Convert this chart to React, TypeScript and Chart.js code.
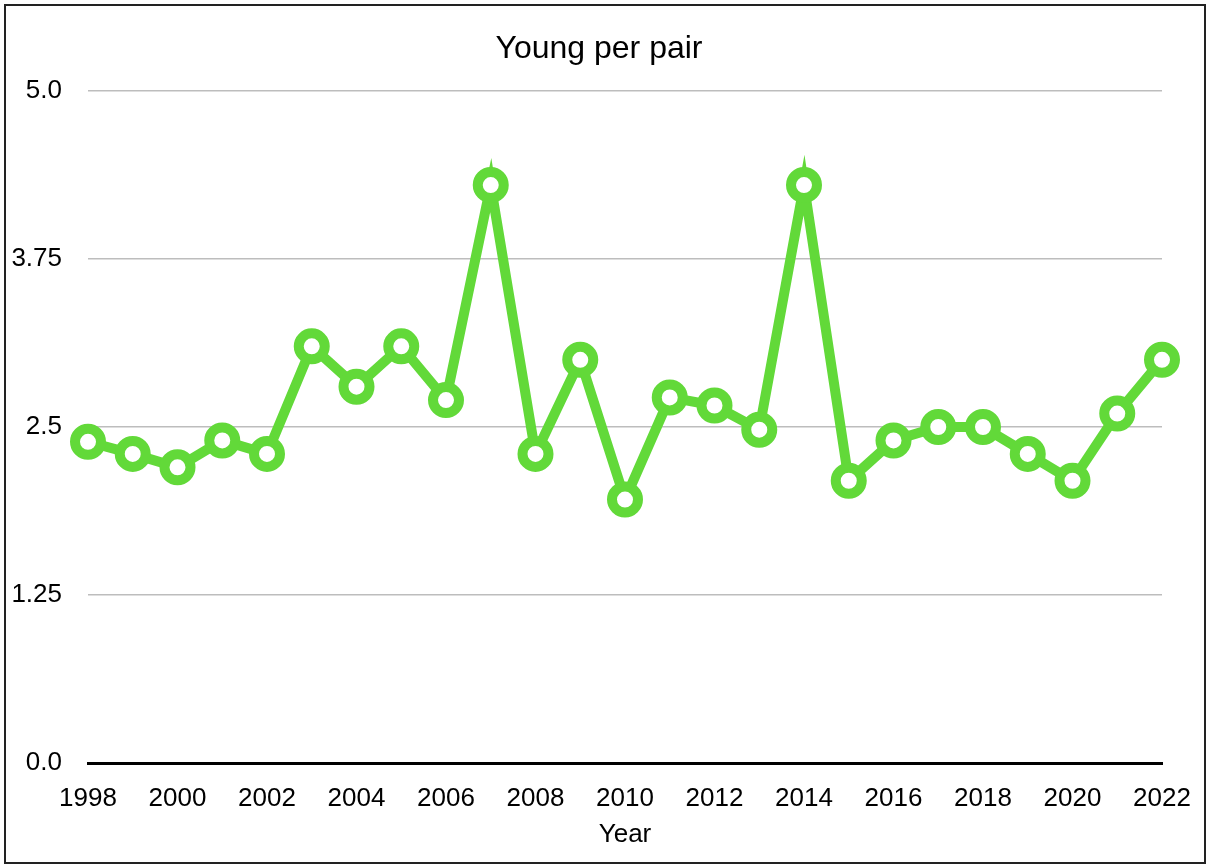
import React, { useEffect, useRef } from "react";
import { Chart, registerables } from "chart.js";

Chart.register(...registerables);

const years: string[] = [
  "1998", "1999", "2000", "2001", "2002", "2003", "2004", "2005", "2006", "2007",
  "2008", "2009", "2010", "2011", "2012", "2013", "2014", "2015", "2016", "2017",
  "2018", "2019", "2020", "2021", "2022",
];

const youngPerPair: number[] = [
  2.39, 2.3, 2.2, 2.4, 2.3, 3.1, 2.8, 3.1, 2.7, 4.3,
  2.3, 3.0, 1.96, 2.72, 2.66, 2.48, 4.3, 2.1, 2.4, 2.5,
  2.5, 2.3, 2.1, 2.6, 3.0,
];

const yTickValues: number[] = [0, 1.25, 2.5, 3.75, 5];
const yTickLabels: string[] = ["0.0", "1.25", "2.5", "3.75", "5.0"];

const chartTitle = "Young per pair";
const xAxisTitle = "Year";

const GREEN = "#62d939";
const FONT = "'Liberation Sans', Arial, sans-serif";

export default function App() {
  const canvasRef = useRef<HTMLCanvasElement | null>(null);

  useEffect(() => {
    if (!canvasRef.current) return;
    const chart = new Chart(canvasRef.current, {
      type: "line",
      data: {
        labels: years,
        datasets: [
          {
            label: chartTitle,
            data: youngPerPair,
            borderColor: GREEN,
            borderWidth: 10,
            borderJoinStyle: "miter",
            pointRadius: 13,
            pointHoverRadius: 13,
            pointBorderWidth: 10,
            pointBorderColor: GREEN,
            pointBackgroundColor: "#ffffff",
            tension: 0,
            fill: false,
          },
        ],
      },
      options: {
        animation: false,
        responsive: false,
        maintainAspectRatio: false,
        layout: { padding: { left: 0, right: 10, top: 0, bottom: 0 } },
        plugins: {
          legend: { display: false },
          tooltip: { enabled: false },
          title: {
            display: true,
            text: chartTitle,
            color: "#000000",
            font: { family: FONT, size: 32, weight: "normal" },
            padding: { top: 30, bottom: 22.6 },
          },
        },
        scales: {
          x: {
            type: "category",
            offset: false,
            afterFit: (scale: any) => {
              scale.height = 102;
              scale.paddingLeft = 0;
              scale.paddingRight = 46;
            },
            grid: { display: false, drawTicks: false },
            border: { display: true, color: "#000000", width: 3 },
            ticks: {
              autoSkip: false,
              maxRotation: 0,
              minRotation: 0,
              padding: 20,
              color: "#000000",
              font: { family: FONT, size: 26 },
              callback: (_v: any, i: number) => (i % 2 === 0 ? years[i] : ""),
            },
            title: {
              display: true,
              text: xAxisTitle,
              color: "#000000",
              font: { family: FONT, size: 26 },
              padding: { top: 0, bottom: 15 },
            },
          },
          y: {
            min: 0,
            max: 5,
            afterBuildTicks: (scale: any) => {
              scale.ticks = yTickValues.map((v) => ({ value: v }));
            },
            afterFit: (scale: any) => {
              scale.width = 88;
            },
            grid: {
              drawTicks: false,
              color: (ctx: any) => (ctx.tick && ctx.tick.value === 0 ? "rgba(0,0,0,0)" : "#bdbdbd"),
              lineWidth: 1.5,
            },
            border: { display: false },
            ticks: {
              padding: 26,
              color: "#000000",
              font: { family: FONT, size: 26 },
              callback: (_v: any, i: number) => yTickLabels[i],
            },
          },
        },
      },
    });
    return () => chart.destroy();
  }, []);

  return (
    <div style={{ position: "absolute", left: 0, top: 0, width: 1208, height: 865, background: "#ffffff" }}>
      <canvas ref={canvasRef} width={1208} height={865} style={{ position: "absolute", left: 0, top: 0, width: 1208, height: 865 }} />
      <div
        style={{
          position: "absolute",
          left: 4,
          top: 4,
          width: 1202,
          height: 860,
          border: "2px solid #222222",
          boxSizing: "border-box",
          pointerEvents: "none",
        }}
      />
    </div>
  );
}
